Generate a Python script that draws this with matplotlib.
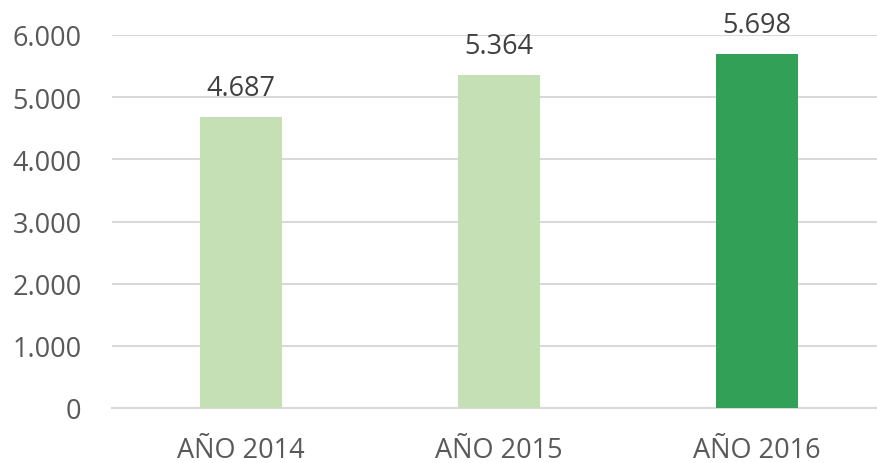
import matplotlib.pyplot as plt
from matplotlib.ticker import FuncFormatter

# datos
categorias = ["AÑO 2014", "AÑO 2015", "AÑO 2016"]
valores = [4687, 5364, 5698]
colores = ["#c5e0b4", "#c5e0b4", "#33a058"]

plt.rcParams['font.family'] = ['Open Sans', 'DejaVu Sans']

fig = plt.figure(figsize=(8.78, 4.64), dpi=100)
ax = fig.add_axes([112/878, 55/464, (878-112)/878, 373/464])

x = range(len(categorias))
bars = ax.bar(x, valores, width=0.314, color=colores, zorder=3)

for b, v in zip(bars, valores):
    ax.text(b.get_x() + b.get_width()/2, v + 230, f"{v:,}".replace(",", "."),
            ha="center", va="bottom", fontsize=19.5, color="#404040")

ax.set_ylim(0, 6000)
ax.set_xlim(-0.5, 2.5 - 8/258)
ax.set_yticks(range(0, 6001, 1000))
ax.yaxis.set_major_formatter(FuncFormatter(lambda v, p: f"{int(v):,}".replace(",", ".")))
ax.set_xticks(list(x))
ax.set_xticklabels(categorias)
ax.tick_params(axis="both", length=0, labelsize=19.5, labelcolor="#595959")
ax.tick_params(axis="y", pad=22)
ax.tick_params(axis="x", pad=20)
ax.grid(axis="y", color="#d9d9d9", linewidth=1.5, zorder=0)
for s in ["top", "right", "left"]:
    ax.spines[s].set_visible(False)
ax.spines["bottom"].set_color("#d9d9d9")
ax.spines["bottom"].set_linewidth(1.5)

fig.savefig("out.png", dpi=100)
